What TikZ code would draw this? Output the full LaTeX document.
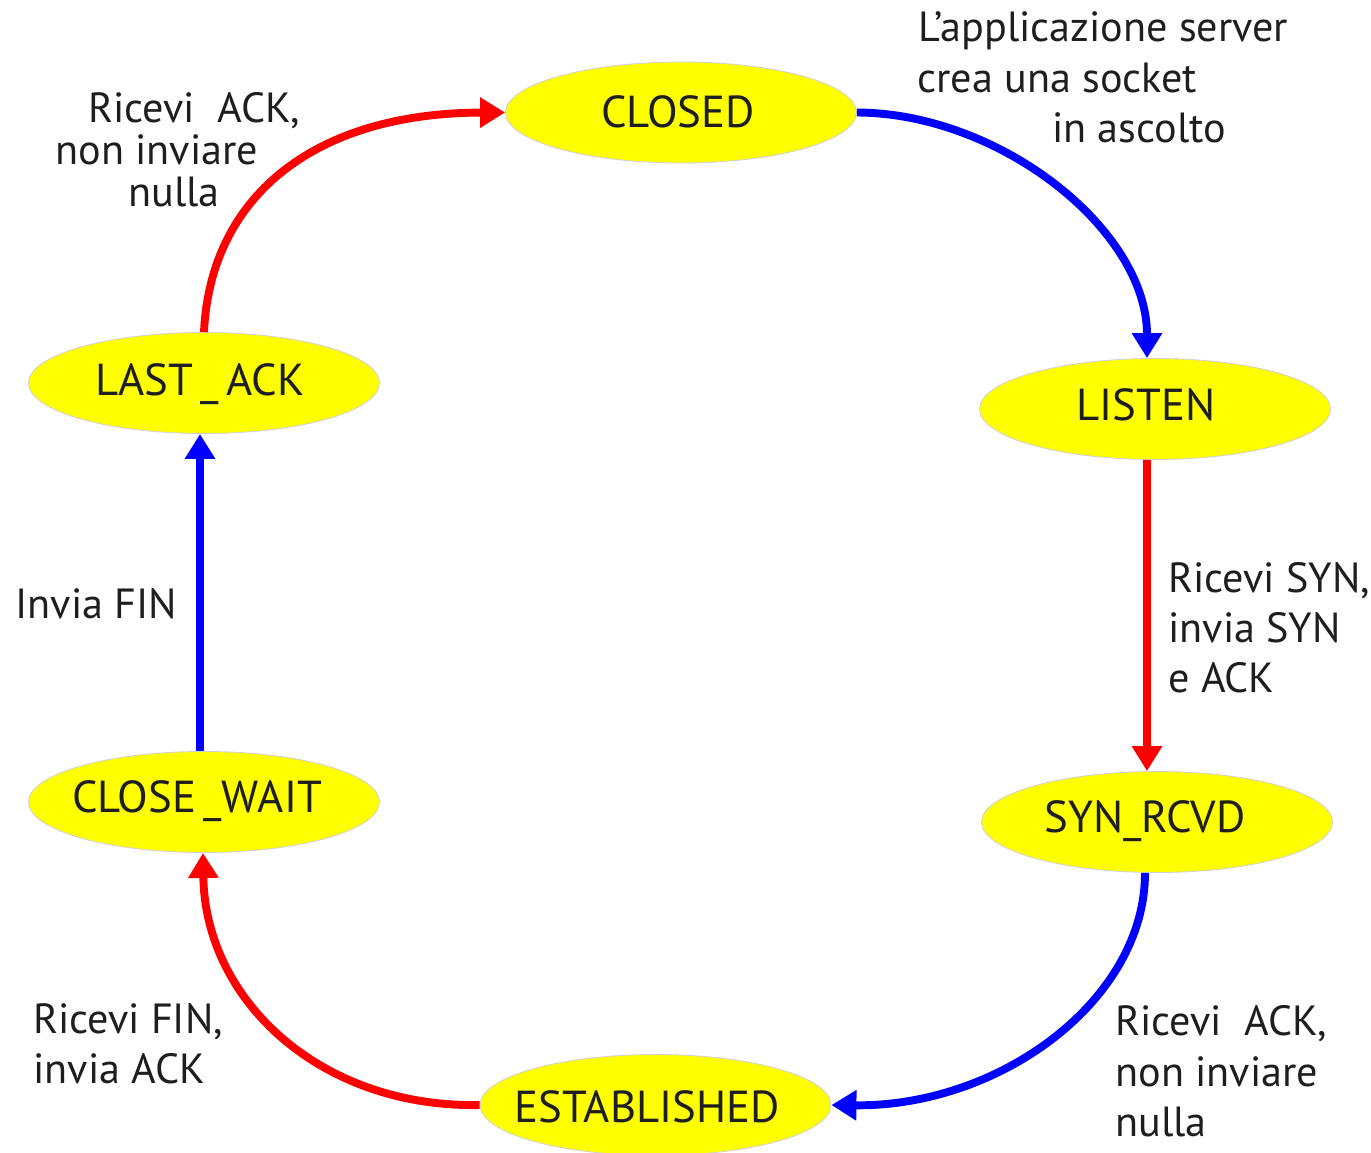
\documentclass[tikz,border=0pt]{standalone}
\usepackage{fontspec}
\setmainfont{PT Sans}
\usetikzlibrary{shapes.geometric,arrows.meta}
\definecolor{stateyellow}{HTML}{FFFF00}
\definecolor{arrred}{HTML}{FF0000}
\definecolor{arrblue}{HTML}{0000FF}
\definecolor{txtgray}{HTML}{1E1E1E}
\begin{document}
\begin{tikzpicture}[x=0.02cm,y=-0.02cm,
  statebox/.style={ellipse,fill=stateyellow,draw=black!18,line width=0.5pt,
    minimum width=7.02cm,minimum height=2.02cm,inner sep=0pt},
  stlbl/.style={text=txtgray,font=\fontsize{25.5}{28}\selectfont,inner sep=0pt,anchor=base},
  lbl/.style={text=txtgray,font=\fontsize{24}{28}\selectfont,inner sep=0pt,anchor=base west},
  conn/.style={line width=4.5pt,-{Triangle[length=0.5cm,width=0.58cm]}},
  redc/.style={conn,draw=arrred},
  bluec/.style={conn,draw=arrblue}]
\useasboundingbox (0,0) rectangle (1371,1152);

% states
\node[statebox] (closed) at (681,112.5) {};
\node[statebox] (listen) at (1155,409) {};
\node[statebox] (synrcvd) at (1157,822) {};
\node[statebox] (est) at (655.5,1105) {};
\node[statebox] (closewait) at (204,802) {};
\node[statebox] (lastack) at (204,383) {};

\node[stlbl] (closedtxt) at (678,128) {CLOSED};
\node[stlbl] (listentxt) at (1146,420) {LISTEN};
\node[stlbl] (synrcvdtxt) at (1145,832) {SYN\_RCVD};
\node[stlbl] (esttxt) at (647,1122) {ESTABLISHED};
\node[stlbl] (closewaittxt) at (197,812) {CLOSE\,\_WAIT};
\node[stlbl] (lastacktxt) at (200,395) {LAST\,\_\,ACK};

% connectors
\draw[redc] (lastack.north) .. controls (210,200) and (310,113) .. (closed.west);
\draw[bluec] (closed.east) .. controls (1000,113) and (1147,230) .. ([xshift=-0.16cm]listen.north);
\draw[redc] ([xshift=-0.16cm]listen.south) -- ([xshift=-0.2cm]synrcvd.north);
\draw[bluec] ([xshift=-0.24cm]synrcvd.south) .. controls (1145,1000) and (1000,1107) .. (est.east);
\draw[redc] (est.west) .. controls (320,1108) and (205,1000) .. ([xshift=-0.02cm]closewait.south);
\draw[bluec] ([xshift=-0.08cm]closewait.north) -- ([xshift=-0.08cm]lastack.south);

% labels
\node[lbl] (l1a) at (918,42) {L’applicazione server};
\node[lbl] (l1b) at (917,93) {crea una socket};
\node[lbl] (l1c) at (1052,143) {in ascolto};

\node[lbl] (l2a) at (1168,592) {Ricevi SYN,};
\node[lbl] (l2b) at (1168,642) {invia SYN};
\node[lbl] (l2c) at (1168,692) {e ACK};

\node[lbl] (l3a) at (1115,1035) {Ricevi~ ACK,};
\node[lbl] (l3b) at (1115,1086) {non inviare};
\node[lbl] (l3c) at (1115,1136) {nulla};

\node[lbl] (l4a) at (33,1033) {Ricevi FIN,};
\node[lbl] (l4b) at (33,1083) {invia ACK};

\node[lbl] (l5) at (15,618) {Invia FIN};

\node[lbl] (l6a) at (88,123) {Ricevi~ ACK,};
\node[lbl] (l6b) at (55,165) {non inviare};
\node[lbl] (l6c) at (128,207) {nulla};
\end{tikzpicture}
\end{document}
